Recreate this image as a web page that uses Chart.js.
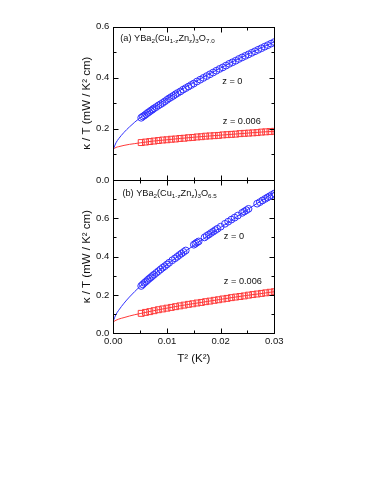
<!DOCTYPE html>
<html>
<head>
<meta charset="utf-8">
<script src="https://cdn.jsdelivr.net/npm/chart.js@4.4.1/dist/chart.umd.min.js"></script>
<style>
  html, body { margin: 0; padding: 0; background: #fff; }
  #wrap { position: relative; width: 382px; height: 494px; }
</style>
</head>
<body>
<div id="wrap"><canvas id="c" width="382" height="494"></canvas></div>
<script>
/* global Chart */

// (a) YBa2(Cu1-zZnz)3O7.0 -- z = 0 (circles)
const topZ0X = [0.0052, 0.0055, 0.0058, 0.0061, 0.0064, 0.0067, 0.0070, 0.0073, 0.0076, 0.0080,
  0.0084, 0.0088, 0.0092, 0.0096, 0.0100, 0.0104, 0.0108, 0.0112, 0.0116, 0.0120, 0.0125,
  0.0130, 0.0135, 0.0140, 0.0145, 0.0150, 0.0156, 0.0162, 0.0168, 0.0174, 0.0180, 0.0186,
  0.0192, 0.0198, 0.0204, 0.0210, 0.0216, 0.0222, 0.0228, 0.0234, 0.0240, 0.0246, 0.0252,
  0.0258, 0.0264, 0.0270, 0.0276, 0.0282, 0.0288, 0.0294, 0.0300];
const topZ0Y = [0.243, 0.248, 0.252, 0.257, 0.262, 0.266, 0.271, 0.275, 0.280, 0.285,
  0.291, 0.296, 0.301, 0.307, 0.313, 0.319, 0.324, 0.329, 0.335, 0.340, 0.346,
  0.353, 0.359, 0.365, 0.371, 0.377, 0.385, 0.392, 0.399, 0.406, 0.413, 0.420,
  0.427, 0.434, 0.440, 0.447, 0.454, 0.460, 0.466, 0.473, 0.479, 0.485, 0.491,
  0.497, 0.503, 0.509, 0.515, 0.521, 0.527, 0.533, 0.539];

// (a) z = 0.006 (squares)
const topZ6X = [0.0052, 0.0060, 0.0068, 0.0076, 0.0084, 0.0092, 0.0100, 0.0108, 0.0116, 0.0124,
  0.0132, 0.0140, 0.0148, 0.0156, 0.0164, 0.0172, 0.0180, 0.0188, 0.0196, 0.0204, 0.0212,
  0.0220, 0.0228, 0.0236, 0.0244, 0.0252, 0.0260, 0.0268, 0.0276, 0.0284, 0.0292, 0.0300];
const topZ6Y = [0.146, 0.148, 0.150, 0.152, 0.154, 0.156, 0.157, 0.159, 0.160, 0.162,
  0.163, 0.165, 0.166, 0.168, 0.169, 0.171, 0.172, 0.173, 0.174, 0.176, 0.177,
  0.178, 0.179, 0.181, 0.182, 0.183, 0.184, 0.185, 0.187, 0.188, 0.189, 0.190];

// (b) YBa2(Cu1-zZnz)3O6.5 -- z = 0
const botZ0X = [0.0052, 0.0055, 0.0058, 0.0061, 0.0064, 0.0067, 0.0070, 0.0073, 0.0076, 0.0080,
  0.0084, 0.0088, 0.0092, 0.0096, 0.0100, 0.0104, 0.0110, 0.0115, 0.0119, 0.0123, 0.0127,
  0.0131, 0.0135, 0.0150, 0.0153, 0.0156, 0.0159, 0.0170, 0.0174, 0.0178, 0.0182, 0.0186,
  0.0190, 0.0194, 0.0200, 0.0208, 0.0214, 0.0220, 0.0226, 0.0232, 0.0240, 0.0244, 0.0248,
  0.0252, 0.0268, 0.0273, 0.0278, 0.0283, 0.0287, 0.0291, 0.0295, 0.0300];
const botZ0Y = [0.247, 0.255, 0.263, 0.270, 0.278, 0.285, 0.292, 0.299, 0.306, 0.315,
  0.324, 0.333, 0.342, 0.350, 0.359, 0.368, 0.381, 0.391, 0.399, 0.408, 0.416,
  0.424, 0.432, 0.462, 0.468, 0.474, 0.479, 0.500, 0.508, 0.515, 0.523, 0.530,
  0.538, 0.545, 0.556, 0.571, 0.582, 0.593, 0.603, 0.614, 0.628, 0.635, 0.642,
  0.649, 0.676, 0.684, 0.693, 0.701, 0.708, 0.714, 0.721, 0.729];

// (b) z = 0.006
const botZ6X = topZ6X;
const botZ6Y = [0.104, 0.109, 0.113, 0.118, 0.123, 0.127, 0.131, 0.135, 0.139, 0.143,
  0.147, 0.151, 0.154, 0.158, 0.161, 0.165, 0.168, 0.172, 0.175, 0.179, 0.182,
  0.186, 0.189, 0.192, 0.195, 0.199, 0.202, 0.205, 0.208, 0.211, 0.214, 0.217];

// fit curves
const fitX = [0, 0.0005, 0.001, 0.002, 0.003, 0.004, 0.005, 0.0075, 0.01, 0.0125,
  0.015, 0.0175, 0.02, 0.0225, 0.025, 0.0275, 0.03];
const topFitZ0 = [0.120, 0.145, 0.161, 0.186, 0.207, 0.226, 0.243, 0.282, 0.318, 0.351,
  0.381, 0.410, 0.438, 0.465, 0.491, 0.516, 0.540];
const topFitZ6 = [0.120, 0.127, 0.130, 0.135, 0.139, 0.142, 0.145, 0.152, 0.157, 0.162,
  0.167, 0.171, 0.175, 0.179, 0.183, 0.187, 0.190];
const botFitZ0 = [0.065, 0.098, 0.120, 0.157, 0.189, 0.218, 0.245, 0.305, 0.359, 0.410,
  0.458, 0.506, 0.552, 0.598, 0.645, 0.690, 0.735];
const botFitZ6 = [0.060, 0.068, 0.074, 0.082, 0.090, 0.097, 0.103, 0.118, 0.131, 0.144,
  0.155, 0.166, 0.177, 0.188, 0.198, 0.207, 0.217];

const X_TICKS = [0, 0.01, 0.02, 0.03];
const Y_TICKS_TOP = [0, 0.2, 0.4, 0.6];
const Y_TICKS_BOT = [0, 0.2, 0.4, 0.6];

const BLUE = '#3030ff';
const RED = '#ff3a3a';
const FONT = '"Liberation Sans", Arial, sans-serif';

const pts = (xs, ys) => xs.map((x, i) => ({ x, y: ys[i] }));

function fitSet(xs, ys, color, axis) {
  return {
    type: 'line', data: pts(xs, ys), yAxisID: axis,
    borderColor: color, borderWidth: 1, pointRadius: 0,
    cubicInterpolationMode: 'monotone', fill: false,
  };
}

function markSet(xs, ys, color, axis, style) {
  return {
    type: 'scatter', data: pts(xs, ys), yAxisID: axis,
    borderColor: color, backgroundColor: 'rgba(0,0,0,0)', borderWidth: 1,
    pointStyle: style, pointRadius: style === 'rect' ? 4.2 : 3.4,
  };
}

// frame + inward ticks on every side of both panels
const framePlugin = {
  id: 'frame',
  afterDraw(chart) {
    const { ctx } = chart;
    const x = chart.scales.x;
    ctx.save();
    ctx.strokeStyle = '#000';
    ctx.lineWidth = 1;
    ['yTop', 'yBot'].forEach(id => {
      const y = chart.scales[id];
      const l = Math.round(x.left) + 0.5, r = Math.round(x.right) + 0.5;
      const t = Math.round(y.top) + 0.5, b = Math.round(y.bottom) + 0.5;
      ctx.strokeRect(l, t, r - l, b - t);
      ctx.beginPath();
      const xt = [];
      for (let i = 0; i < X_TICKS.length; i++) {
        xt.push([X_TICKS[i], 5]);
        if (i < X_TICKS.length - 1) xt.push([(X_TICKS[i] + X_TICKS[i + 1]) / 2, 3]);
      }
      xt.forEach(([v, len]) => {
        const px = Math.round(x.getPixelForValue(v)) + 0.5;
        ctx.moveTo(px, b); ctx.lineTo(px, b - len);
        ctx.moveTo(px, t); ctx.lineTo(px, t + len);
      });
      const yv = [];
      for (let v = 0; v <= y.max + 1e-9; v += 0.1) yv.push([v, Math.round(v * 10) % 2 === 0 ? 5 : 3]);
      yv.forEach(([v, len]) => {
        const py = Math.round(y.getPixelForValue(v)) + 0.5;
        ctx.moveTo(l, py); ctx.lineTo(l + len, py);
        ctx.moveTo(r, py); ctx.lineTo(r - len, py);
      });
      ctx.stroke();
    });
    ctx.restore();
  },
};

// panel labels and z annotations with subscripts
function drawRich(ctx, parts, x, y, size) {
  let cx = x;
  parts.forEach(([txt, sub]) => {
    const s = sub ? size * 0.68 : size;
    ctx.font = s + 'px ' + FONT;
    ctx.fillText(txt, cx, sub ? y + size * 0.3 : y);
    cx += ctx.measureText(txt).width;
  });
}

const notesPlugin = {
  id: 'notes',
  afterDraw(chart) {
    const { ctx } = chart;
    const x = chart.scales.x, yt = chart.scales.yTop, yb = chart.scales.yBot;
    ctx.save();
    ctx.fillStyle = '#111';
    ctx.textBaseline = 'middle';
    const formula = (tag, ox) => [[tag + ' YBa', 0], ['2', 1], ['(Cu', 0], ['1-z', 1], ['Zn', 0],
      ['z', 1], [')', 0], ['3', 1], ['O', 0], [ox, 1]];
    const fs = 9.2;
    drawRich(ctx, formula('(a)', '7.0'), x.getPixelForValue(0.0013), yt.getPixelForValue(0.553), fs);
    drawRich(ctx, formula('(b)', '6.5'), x.getPixelForValue(0.0017), yb.getPixelForValue(0.731), fs);
    drawRich(ctx, [['z = 0', 0]], x.getPixelForValue(0.0203), yt.getPixelForValue(0.385), fs);
    drawRich(ctx, [['z = 0.006', 0]], x.getPixelForValue(0.0204), yt.getPixelForValue(0.229), fs);
    drawRich(ctx, [['z = 0', 0]], x.getPixelForValue(0.0206), yb.getPixelForValue(0.504), fs);
    drawRich(ctx, [['z = 0.006', 0]], x.getPixelForValue(0.0206), yb.getPixelForValue(0.268), fs);
    ctx.restore();
  },
};

const tickFont = { family: FONT, size: 9.5 };
const titleFont = { family: FONT, size: 11.5 };

function yScale(max, ticks, hideTop) {
  return {
    type: 'linear', position: 'left', stack: 'k', stackWeight: 1,
    min: 0, max,
    grid: { display: false, drawTicks: false }, border: { display: false },
    afterBuildTicks: s => { s.ticks = ticks.map(v => ({ value: v })); },
    afterFit: s => { s.width = 33.3; },
    ticks: {
      font: tickFont, color: '#111', padding: 4,
      callback: v => (hideTop && v >= max - 1e-9 ? '' : v.toFixed(1)),
    },
    title: { display: true, text: 'κ / T (mW / K² cm)', font: titleFont, color: '#111', padding: 0 },
  };
}

new Chart(document.getElementById('c'), {
  data: {
    datasets: [
      fitSet(fitX, topFitZ0, BLUE, 'yTop'),
      fitSet(fitX, topFitZ6, RED, 'yTop'),
      fitSet(fitX, botFitZ0, BLUE, 'yBot'),
      fitSet(fitX, botFitZ6, RED, 'yBot'),
      markSet(topZ0X, topZ0Y, BLUE, 'yTop', 'circle'),
      markSet(topZ6X, topZ6Y, RED, 'yTop', 'rect'),
      markSet(botZ0X, botZ0Y, BLUE, 'yBot', 'circle'),
      markSet(botZ6X, botZ6Y, RED, 'yBot', 'rect'),
    ],
  },
  options: {
    responsive: false,
    animation: false,
    layout: { padding: { left: 80, right: 107.7, top: 26.5, bottom: 128.2 } },
    plugins: { legend: { display: false }, tooltip: { enabled: false } },
    scales: {
      x: {
        type: 'linear', min: 0, max: 0.03,
        grid: { display: false, drawTicks: false }, border: { display: false },
        afterBuildTicks: s => { s.ticks = X_TICKS.map(v => ({ value: v })); },
        afterFit: s => { s.height = 32.5; },
        ticks: { font: tickFont, color: '#111', padding: 2, maxRotation: 0, callback: v => v.toFixed(2) },
        title: { display: true, text: 'T² (K²)', font: titleFont, color: '#111', padding: 0 },
      },
      yBot: yScale(0.8, Y_TICKS_BOT, true),
      yTop: yScale(0.6, Y_TICKS_TOP, false),
    },
  },
  plugins: [framePlugin, notesPlugin],
});
</script>
</body>
</html>
